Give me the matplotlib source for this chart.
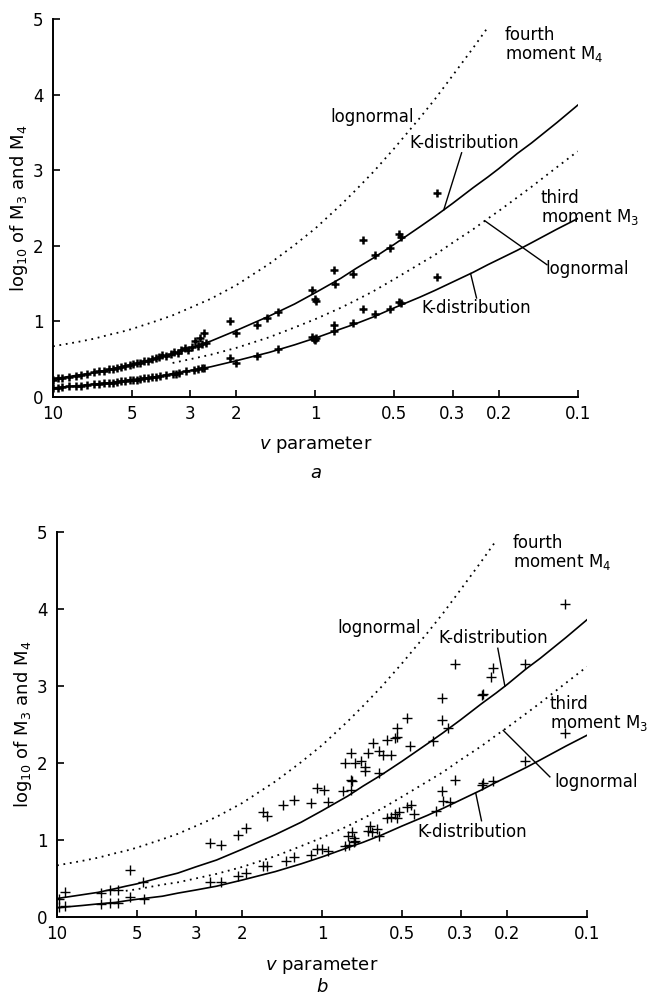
import matplotlib
matplotlib.use("Agg")
import matplotlib.pyplot as plt
import numpy as np

plt.rcParams['font.family'] = ['DejaVu Sans']
plt.rcParams['mathtext.fontset'] = 'dejavusans'

# theory curves: normalised moments vs v parameter
v_grid = [10, 8, 7, 6, 5.5, 5, 4, 3.5, 3, 2.5, 2, 1.5, 1.2, 1, 0.8, 0.7, 0.6, 0.5,
          0.4, 0.35, 0.3, 0.25, 0.22, 0.2, 0.17, 0.15, 0.12, 0.1]
k_m3 = [0.12, 0.15, 0.17, 0.19, 0.21, 0.23, 0.27, 0.31, 0.35, 0.40, 0.48, 0.59, 0.69, 0.78,
        0.90, 0.97, 1.06, 1.18, 1.32, 1.41, 1.52, 1.65, 1.75, 1.82, 1.94, 2.04, 2.22, 2.36]
k_m4 = [0.24, 0.29, 0.32, 0.37, 0.40, 0.43, 0.52, 0.57, 0.65, 0.74, 0.88, 1.07, 1.23, 1.38,
        1.57, 1.70, 1.84, 2.02, 2.25, 2.39, 2.56, 2.77, 2.91, 3.02, 3.22, 3.36, 3.63, 3.86]
ln_m3 = [0.25, 0.28, 0.30, 0.33, 0.34, 0.36, 0.42, 0.45, 0.50, 0.56, 0.65, 0.79, 0.92, 1.03,
         1.18, 1.28, 1.40, 1.56, 1.76, 1.88, 2.04, 2.22, 2.36, 2.46, 2.64, 2.78, 3.04, 3.25]
ln_m4 = [0.67, 0.73, 0.77, 0.83, 0.86, 0.90, 1.01, 1.08, 1.18, 1.30, 1.48, 1.76, 2.01, 2.23,
         2.54, 2.74, 2.98, 3.29, 3.69, 3.94, 4.25, 4.62, 4.89]

# measured moments, panel a
a_m4_v = [10, 9.6, 9.2, 8.7, 8.2, 7.8, 7.4, 7.0, 6.7, 6.4, 6.1, 5.9, 5.7, 5.5, 5.3, 5.1, 4.95,
          4.8, 4.65, 4.5, 4.35, 4.2, 4.05, 3.95, 3.85, 3.7, 3.55, 3.45, 3.35, 3.25, 3.15, 3.05,
          2.95, 2.88, 2.8, 2.75, 2.7, 2.65, 2.62, 2.12, 2.0, 1.67, 1.53, 1.39, 1.03, 1.0, 0.99,
          0.85, 0.84, 0.72, 0.66, 0.59, 0.52, 0.48, 0.47, 0.345]
a_m4 = [0.23, 0.25, 0.25, 0.27, 0.28, 0.29, 0.31, 0.33, 0.34, 0.35, 0.37, 0.37, 0.39, 0.40,
        0.41, 0.42, 0.43, 0.45, 0.45, 0.47, 0.48, 0.50, 0.51, 0.53, 0.55, 0.54, 0.57, 0.59,
        0.58, 0.62, 0.65, 0.62, 0.66, 0.74, 0.68, 0.78, 0.70, 0.84, 0.72, 1.01, 0.84, 0.95,
        1.04, 1.12, 1.42, 1.29, 1.27, 1.68, 1.50, 1.63, 2.08, 1.88, 1.97, 2.16, 2.12, 2.70]
a_m3_v = [10, 9.6, 9.2, 8.7, 8.2, 7.8, 7.4, 7.0, 6.7, 6.4, 6.1, 5.9, 5.7, 5.5, 5.3, 5.1, 4.95,
          4.8, 4.65, 4.5, 4.35, 4.2, 4.05, 3.9, 3.7, 3.5, 3.4, 3.3, 3.1, 2.9, 2.8, 2.7, 2.65,
          2.12, 2.0, 1.67, 1.39, 1.03, 1.01, 1.0, 0.99, 0.85, 0.85, 0.72, 0.66, 0.59, 0.52,
          0.48, 0.47, 0.345]
a_m3 = [0.12, 0.12, 0.13, 0.14, 0.14, 0.15, 0.16, 0.17, 0.17, 0.18, 0.19, 0.19, 0.20, 0.21,
        0.21, 0.22, 0.23, 0.23, 0.24, 0.25, 0.25, 0.26, 0.27, 0.28, 0.29, 0.31, 0.31, 0.32,
        0.34, 0.36, 0.37, 0.38, 0.39, 0.51, 0.45, 0.54, 0.63, 0.79, 0.77, 0.76, 0.78, 0.95,
        0.87, 0.98, 1.17, 1.10, 1.17, 1.26, 1.24, 1.59]

# measured moments, panel b
b_m4_v = [9.8, 9.3, 6.8, 6.3, 5.9, 5.3, 4.73, 2.64, 2.40, 2.07, 1.93, 1.67, 1.61, 1.40, 1.28,
          1.10, 1.04, 0.98, 0.95, 0.83, 0.82, 0.78, 0.78, 0.77, 0.78, 0.75, 0.71, 0.69, 0.69,
          0.67, 0.64, 0.61, 0.61, 0.59, 0.57, 0.55, 0.53, 0.523, 0.523, 0.479, 0.465, 0.38,
          0.353, 0.353, 0.334, 0.315, 0.249, 0.246, 0.231, 0.226, 0.171, 0.121]
b_m4 = [0.24, 0.33, 0.31, 0.35, 0.35, 0.61, 0.46, 0.96, 0.94, 1.06, 1.15, 1.36, 1.31, 1.46,
        1.52, 1.48, 1.67, 1.65, 1.49, 1.63, 2.00, 2.13, 1.78, 1.76, 1.65, 2.00, 2.02, 1.95,
        1.90, 2.13, 2.26, 2.15, 1.87, 2.10, 2.30, 2.10, 2.32, 2.45, 2.34, 2.58, 2.22, 2.28,
        2.84, 2.56, 2.45, 3.29, 2.88, 2.90, 3.12, 3.23, 3.29, 4.07]
b_m3_v = [9.8, 9.3, 6.8, 6.3, 5.9, 5.3, 4.7, 2.64, 2.40, 2.07, 1.93, 1.67, 1.61, 1.37, 1.27,
          1.10, 1.04, 1.0, 0.95, 0.82, 0.80, 0.77, 0.76, 0.75, 0.79, 0.76, 0.67, 0.65, 0.66,
          0.62, 0.61, 0.57, 0.55, 0.53, 0.52, 0.51, 0.479, 0.46, 0.45, 0.37, 0.353, 0.35,
          0.33, 0.315, 0.249, 0.246, 0.226, 0.171, 0.121]
b_m3 = [0.13, 0.14, 0.17, 0.18, 0.18, 0.26, 0.24, 0.46, 0.46, 0.53, 0.57, 0.66, 0.66, 0.73,
        0.78, 0.81, 0.88, 0.88, 0.86, 0.92, 1.05, 1.10, 1.03, 0.99, 0.94, 0.97, 1.12, 1.10,
        1.18, 1.14, 1.05, 1.28, 1.30, 1.34, 1.29, 1.36, 1.43, 1.45, 1.34, 1.38, 1.63, 1.51,
        1.49, 1.78, 1.71, 1.74, 1.76, 2.02, 2.39]

x_ticks = [10, 5, 3, 2, 1, 0.5, 0.3, 0.2, 0.1]
x_ticklabels = ['10', '5', '3', '2', '1', '0.5', '0.3', '0.2', '0.1']

fig = plt.figure(figsize=(6.51, 10), dpi=100)


def curve_at(v, ys):
    # read a theory curve at v (log spaced in v)
    lv = np.log10(v_grid[:len(ys)])[::-1]
    return np.interp(np.log10(v), lv, np.array(ys)[::-1])


def panel(rect, m4_v, m4, m3_v, m3, letter, ln3_start, mew, ms, lab):
    ax = fig.add_axes(rect)
    vg = np.array(v_grid)
    dots = (0, (1, 2.6))
    ax.plot(vg, k_m4, color='black', lw=1.2)
    ax.plot(vg, k_m3, color='black', lw=1.2)
    ax.plot(vg[:len(ln_m4)], ln_m4, color='black', lw=1.3, ls=dots)
    keep = vg <= ln3_start
    ax.plot(vg[keep], np.array(ln_m3)[keep], color='black', lw=1.3, ls=dots)

    ax.plot(m4_v, m4, ls='none', marker='+', color='black', ms=ms, mew=mew)
    ax.plot(m3_v, m3, ls='none', marker='+', color='black', ms=ms, mew=mew)

    ax.set_xscale('log')
    ax.set_xlim(10, 0.1)
    ax.set_ylim(0, 5)
    ax.set_xticks(x_ticks)
    ax.set_xticklabels(x_ticklabels)
    ax.xaxis.set_minor_locator(matplotlib.ticker.NullLocator())
    ax.set_yticks([0, 1, 2, 3, 4, 5])
    ax.tick_params(direction='in', length=5, width=1.2, labelsize=12)
    ax.tick_params(axis='x', pad=6)
    ax.tick_params(axis='y', pad=7)
    for s in ['top', 'right']:
        ax.spines[s].set_visible(False)
    for s in ['left', 'bottom']:
        ax.spines[s].set_linewidth(1.4)

    ax.set_ylabel(r'$\mathregular{log_{10}}$ of M$_3$ and M$_4$', fontsize=13, labelpad=2)
    ax.text(0.5, -0.125, r'$\mathit{v}$ parameter', transform=ax.transAxes,
            ha='center', va='center', fontsize=13)
    ax.text(0.5, lab['letter_y'], letter, transform=ax.transAxes, ha='center', va='center',
            fontsize=13, style='italic')

    fs = 12
    ax.text(0.19, lab['m4'], 'fourth\nmoment M$_4$', fontsize=fs, ha='left', va='center',
            linespacing=1.0)
    ax.text(lab['ln4'][0], lab['ln4'][1], 'lognormal', fontsize=fs, ha='left', va='center')
    ax.text(lab['k4'][0], lab['k4'][1], 'K-distribution', fontsize=fs, ha='left', va='center')
    ax.text(0.138, lab['m3'], 'third\nmoment M$_3$', fontsize=fs, ha='left', va='center',
            linespacing=1.0)
    ax.text(0.133, lab['ln3'], 'lognormal', fontsize=fs, ha='left', va='center')
    ax.text(lab['k3'][0], lab['k3'][1], 'K-distribution', fontsize=fs, ha='left', va='center')

    # leader lines from labels to curves
    for (v0, y0), v1, curve in lab['leaders']:
        ax.plot([v0, v1], [y0, curve_at(v1, curve)], color='black', lw=1)
    return ax


lab_a = {'m4': 4.66, 'ln4': (0.88, 3.70), 'k4': (0.437, 3.36), 'm3': 2.5, 'ln3': 1.69,
         'k3': (0.394, 1.18), 'letter_y': -0.2,
         'leaders': [((0.277, 3.23), 0.324, k_m4), ((0.131, 1.75), 0.226, ln_m3),
                     ((0.243, 1.31), 0.256, k_m3)]}
lab_b = {'m4': 4.73, 'm3': 2.64, 'ln4': (0.877, 3.75), 'k4': (0.365, 3.62), 'ln3': 1.75,
         'k3': (0.438, 1.10), 'letter_y': -0.182,
         'leaders': [((0.217, 3.49), 0.204, k_m4), ((0.138, 1.82), 0.207, ln_m3),
                     ((0.25, 1.25), 0.263, k_m3)]}

panel([0.0814, 0.603, 0.806, 0.378], a_m4_v, a_m4, a_m3_v, a_m3, 'a', 3.5, 1.8, 6, lab_a)
panel([0.0876, 0.083, 0.814, 0.385], b_m4_v, b_m4, b_m3_v, b_m3, 'b', 5.5, 1.0, 7, lab_b)

fig.savefig('out.png', dpi=100)
